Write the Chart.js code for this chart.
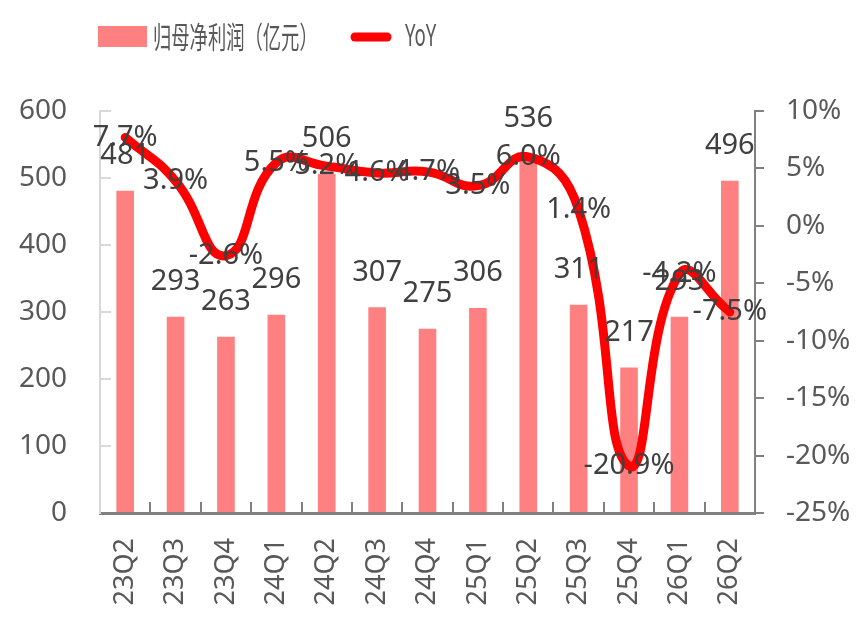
<!DOCTYPE html>
<html>
<head>
<meta charset="utf-8">
<script src="https://cdn.jsdelivr.net/npm/chart.js@4.4.1/dist/chart.umd.min.js"></script>
<style>
  html, body { margin: 0; padding: 0; background: #fff; }
</style>
</head>
<body>
<canvas id="chartLucro" width="864" height="624"></canvas>
<script>
// dados do gráfico
const trimestres = ['23Q2', '23Q3', '23Q4', '24Q1', '24Q2', '24Q3', '24Q4', '25Q1', '25Q2', '25Q3', '25Q4', '26Q1', '26Q2'];
const lucroLiquido = [481, 293, 263, 296, 506, 307, 275, 306, 536, 311, 217, 293, 496];
const variacaoYoy = [7.7, 3.9, -2.6, 5.5, 5.2, 4.6, 4.7, 3.5, 6.0, 1.4, -20.9, -4.2, -7.5];

const fonteNum = '"Noto Sans", "DejaVu Sans", sans-serif';

// rótulos de dados
const rotulosPlugin = {
  id: 'rotulos',
  afterDatasetsDraw(chart) {
    const ctx = chart.ctx;
    ctx.save();
    ctx.font = '29px ' + fonteNum;
    ctx.fillStyle = '#404040';
    ctx.textAlign = 'center';
    ctx.textBaseline = 'middle';
    chart.getDatasetMeta(0).data.forEach((barra, i) => {
      ctx.fillText(String(lucroLiquido[i]), barra.x, barra.y - 35);
    });
    chart.getDatasetMeta(1).data.forEach((ponto, i) => {
      ctx.fillText(variacaoYoy[i].toFixed(1) + '%', ponto.x, ponto.y);
    });
    ctx.restore();
  }
}

// legenda desenhada à mão (texto estreito como no original)
const legendaPlugin = {
  id: 'legenda',
  afterDraw(chart) {
    const ctx = chart.ctx;
    const ds = chart.data.datasets;
    ctx.save();
    ctx.fillStyle = ds[0].backgroundColor;
    ctx.fillRect(98, 26, 49, 21);

    ctx.strokeStyle = ds[1].borderColor;
    ctx.lineWidth = 9;
    ctx.lineCap = 'round';
    ctx.beginPath();
    ctx.moveTo(355, 37);
    ctx.lineTo(387, 37);
    ctx.stroke();

    ctx.fillStyle = '#595959';
    ctx.textAlign = 'left';
    ctx.textBaseline = 'middle';

    ctx.save();
    ctx.translate(153, 37);
    ctx.scale(0.61, 1);
    ctx.font = '30px "Noto Sans CJK SC", sans-serif';
    ctx.fillText(ds[0].label, 0, 0);
    ctx.restore();

    ctx.save();
    ctx.translate(405, 37);
    ctx.scale(0.6, 1);
    ctx.font = '31px ' + fonteNum;
    ctx.fillText(ds[1].label, 0, 0);
    ctx.restore();

    ctx.restore();
  }
}

const chartLucro = document.getElementById('chartLucro');

const dados = {
  labels: trimestres,
  datasets: [{
    type: 'bar',
    label: '归母净利润（亿元）',
    data: lucroLiquido,
    backgroundColor: '#FF8080',
    barPercentage: 0.7,
    categoryPercentage: 0.5,
    yAxisID: 'y',
    order: 2
  }, {
    type: 'line',
    label: 'YoY',
    data: variacaoYoy,
    borderColor: '#FF0000',
    backgroundColor: '#FF0000',
    borderWidth: 9,
    borderCapStyle: 'round',
    pointRadius: 0,
    tension: 0.48,
    fill: false,
    yAxisID: 'y1',
    order: 1
  }]
}

const config = {
  data: dados,
  options: {
    responsive: false,
    animation: false,
    layout: { padding: { top: 111, left: 0, right: 0, bottom: 0 } },
    plugins: {
      legend: { display: false },
      tooltip: { enabled: false }
    },
    scales: {
      x: {
        offset: true,
        grid: { offset: true, drawOnChartArea: false, color: '#808080', lineWidth: 2, tickLength: -11 },
        border: { color: '#808080', width: 3 },
        ticks: {
          color: '#595959',
          font: { family: fonteNum, size: 27 },
          minRotation: 90,
          maxRotation: 90,
          autoSkip: false,
          padding: 36
        },
        afterFit: (s) => { s.height = 111 }
      },
      y: {
        position: 'left',
        min: 0,
        max: 600,
        ticks: { stepSize: 100, color: '#595959', font: { family: fonteNum, size: 28 }, padding: 44 },
        grid: { drawOnChartArea: false, color: '#D9D9D9', lineWidth: 2, tickLength: -11 },
        border: { color: '#D9D9D9', width: 2 },
        afterFit: (s) => { s.width = 100 }
      },
      y1: {
        position: 'right',
        min: -25,
        max: 10,
        ticks: {
          stepSize: 5,
          color: '#595959',
          font: { family: fonteNum, size: 28 },
          padding: 22,
          callback: (v) => v + '%'
        },
        grid: { drawOnChartArea: false, color: '#808080', lineWidth: 2, tickLength: 9 },
        border: { color: '#808080', width: 2 },
        afterFit: (s) => { s.width = 109 }
      }
    }
  },
  plugins: [rotulosPlugin, legendaPlugin]
}

let grafico = new Chart(chartLucro, config)
</script>
</body>
</html>
